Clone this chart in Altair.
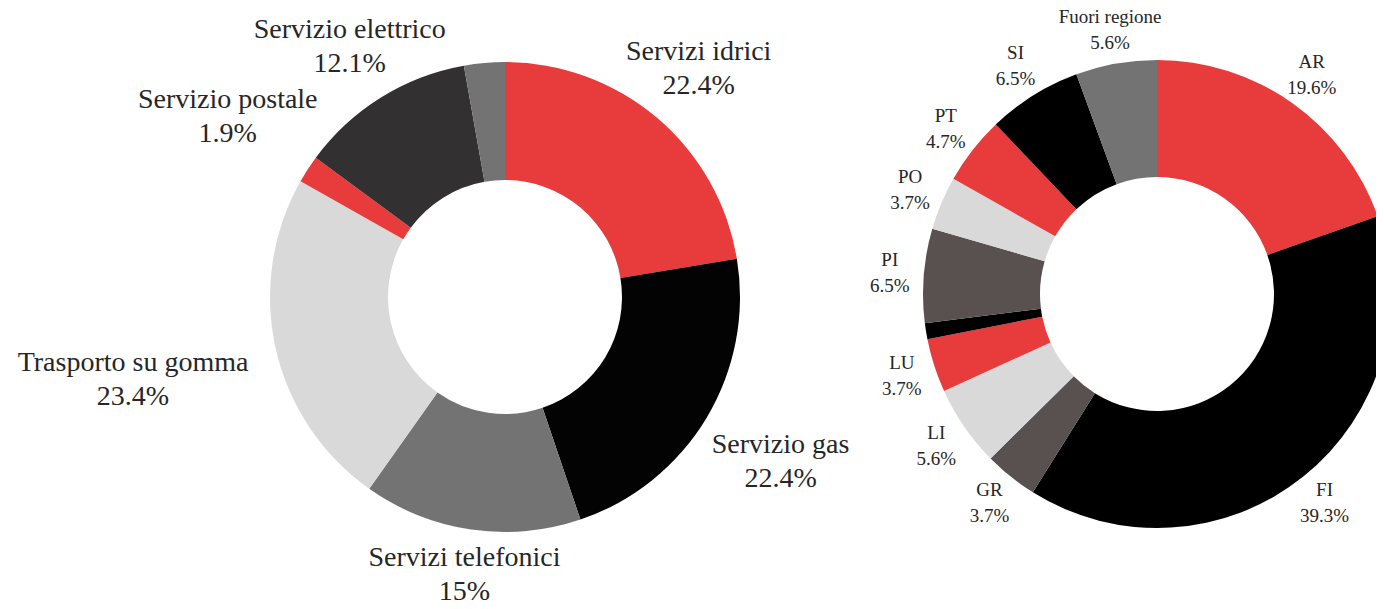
import math
import altair as alt
import pandas as pd

# ---------------- data ----------------
left_names = ["Servizi idrici", "Servizio gas", "Servizi telefonici",
              "Trasporto su gomma", "Servizio postale", "Servizio elettrico", ""]
left_values = [22.4, 22.4, 15.0, 23.4, 1.9, 12.1, 2.8]
left_pcts = ["22.4%", "22.4%", "15%", "23.4%", "1.9%", "12.1%", ""]

right_names = ["AR", "FI", "GR", "LI", "LU", "", "PI", "PO", "PT", "SI", "Fuori regione"]
right_values = [19.6, 39.3, 3.7, 5.6, 3.7, 1.1, 6.5, 3.7, 4.7, 6.5, 5.6]
right_pcts = ["19.6%", "39.3%", "3.7%", "5.6%", "3.7%", "", "6.5%", "3.7%", "4.7%", "6.5%", "5.6%"]

# ---------------- styles ----------------
RED, BLACK, GREY, LIGHT = "#E83C3C", "#030303", "#737373", "#D9D9D9"
left_palette = [RED, BLACK, GREY, LIGHT, RED, "#323031", GREY]
right_palette = [RED, "#000000", "#585150", LIGHT, RED, "#000000", "#585150",
                 LIGHT, RED, "#000000", GREY]
FONT = "Liberation Serif"
TEXT_COLOR = "#262626"

# approximate Times-like advance widths (per 1000 em) for label box estimation
_W = {c: 500 for c in "0123456789bdghknopquvxy"}
_W.update({"a": 444, "c": 444, "e": 444, "z": 444, "f": 333, "r": 333, "s": 389,
           "i": 278, "j": 278, "l": 278, "t": 278, "m": 778, "w": 722, " ": 250,
           ".": 250, "%": 833, "S": 556, "T": 611})


def text_width(s, size):
    return sum(_W.get(ch, 650) for ch in s) / 1000.0 * size


def build(names, values, pcts, palette, size, base_r, width_k):
    """Label radius: pushed outward for wide labels on the sides of the ring."""
    total = sum(values)
    rows, cum = [], 0.0
    for i, (n, v, p) in enumerate(zip(names, values, pcts)):
        mid = (cum + v / 2) / total * 2 * math.pi
        cum += v
        label = f"{n}\n{p}" if n else ""
        hw = max(text_width(n, size), text_width(p, size)) / 2 if n else 0
        r = base_r + width_k * hw * abs(math.sin(mid)) ** 3
        rows.append({"idx": i, "name": n, "value": v, "label": label,
                     "color": palette[i], "lr": r})
    return pd.DataFrame(rows)


def donut(df, cx, cy, r_out, r_in, size, lh):
    arcs = alt.Chart(df).mark_arc(outerRadius=r_out, innerRadius=r_in, strokeWidth=0).encode(
        theta=alt.Theta("value:Q", stack=True),
        order=alt.Order("idx:Q"),
        color=alt.Color("color:N", scale=None),
        x=alt.value(cx),
        y=alt.value(cy),
    )
    text = alt.Chart(df).transform_window(
        cum="sum(value)", sort=[alt.SortField("idx")], frame=[None, 0]
    ).transform_calculate(
        mid="datum.cum - datum.value / 2"
    ).mark_text(font=FONT, fontSize=size, lineHeight=lh, lineBreak="\n",
                color=TEXT_COLOR, align="center", baseline="middle",
                dy=-lh / 2).encode(
        theta=alt.Theta("mid:Q", stack=None),
        radius=alt.Radius("lr:Q", scale=None, stack=None),
        text="label:N",
        x=alt.value(cx),
        y=alt.value(cy),
    )
    return alt.layer(arcs, text)


left_df = build(left_names, left_values, left_pcts, left_palette, 28, 281, 0.93)
right_df = build(right_names, right_values, right_pcts, right_palette, 19, 268, 0.0)

chart = alt.layer(
    donut(left_df, 497, 289, 235, 117, 28, 34),
    donut(right_df, 1149, 286, 234, 117, 19, 26),
).resolve_scale(theta="independent").properties(
    width=1368, height=593, autosize=alt.AutoSizeParams(type="none"), padding=0
).configure_view(stroke=None)

chart.save("out.html", embed_options={"renderer": "svg", "actions": False})
